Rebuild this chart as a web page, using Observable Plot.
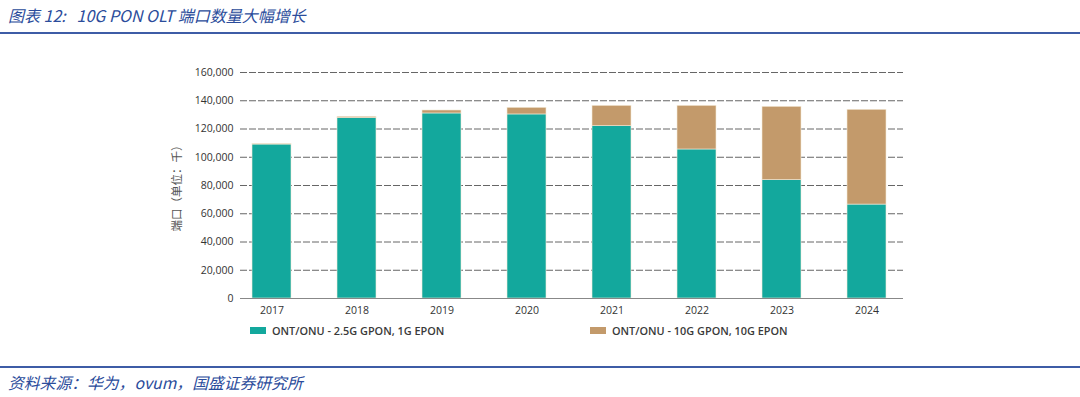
<!DOCTYPE html>
<html><head><meta charset="utf-8">
<script src="https://cdn.jsdelivr.net/npm/d3@7"></script>
<script src="https://cdn.jsdelivr.net/npm/@observablehq/plot@0.6"></script>
<style>
html,body{margin:0;padding:0;background:#fff;width:1080px;height:397px;overflow:hidden;position:relative;font-family:"Open Sans","Noto Sans CJK SC",sans-serif;}
.title{position:absolute;left:8px;top:3px;font-size:16px;font-style:italic;color:#2b4c9b;font-family:"Noto Sans CJK SC","Noto Sans",sans-serif;white-space:nowrap;}
.rule{position:absolute;left:0;width:1080px;height:2px;background:#3d5ca6;}
.foot{position:absolute;left:8px;top:371px;font-size:15.8px;font-style:italic;color:#2b4c9b;font-family:"Noto Sans CJK SC","Noto Sans",sans-serif;white-space:nowrap;}
#chart{position:absolute;left:0;top:50px;}
.leg{position:absolute;top:323px;font-size:10.9px;font-weight:600;color:#3a3a3a;white-space:nowrap;display:flex;align-items:center;}
.sw{display:inline-block;width:16px;height:7px;margin-right:6px;}
</style></head>
<body>
<div class="title">图表 12:&nbsp;&nbsp; 10G PON OLT 端口数量大幅增长</div>
<div class="rule" style="top:32px"></div>
<div id="chart"></div>
<div id="legend"></div>
<div class="rule" style="top:366px"></div>
<div class="foot">资料来源：华为，ovum，国盛证券研究所</div>
<script>
const years = ["2017","2018","2019","2020","2021","2022","2023","2024"];
const seriesNames = ["ONT/ONU - 2.5G GPON, 1G EPON", "ONT/ONU - 10G GPON, 10G EPON"];
const lowSpeed = [109000, 127800, 131000, 130300, 122000, 105500, 83800, 66500];
const highSpeed = [500, 800, 2100, 4700, 14400, 30900, 51900, 67100];
const yTicks = [0, 20000, 40000, 60000, 80000, 100000, 120000, 140000, 160000];
const colors = ["#13a89d", "#c39a6b"];
const yLabel = "端口（单位：千）";

const rows = [];
years.forEach((y, i) => {
  rows.push({year: y, series: seriesNames[0], value: lowSpeed[i]});
  rows.push({year: y, series: seriesNames[1], value: highSpeed[i]});
});

const fmt = d3.format(",");
const plot = Plot.plot({
  width: 1080,
  height: 270,
  marginLeft: 240,
  marginRight: 177,
  marginTop: 22,
  marginBottom: 22,
  style: {fontFamily: '"Open Sans","Noto Sans CJK SC",sans-serif', fontSize: "10.5px", color: "#333", background: "transparent"},
  x: {domain: years, paddingInner: 0.54, paddingOuter: 0.16, align: 0.4, label: null},
  y: {domain: [0, 160000], label: null},
  color: {domain: seriesNames, range: colors},
  marks: [
    Plot.ruleY(yTicks.filter(d => d > 0), {stroke: "#666", strokeDasharray: "7,2", strokeWidth: 1}),
    Plot.barY(rows, {x: "year", y: "value", fill: "series", stroke: "#f3ead8", strokeWidth: 0.6, order: seriesNames}),
    Plot.ruleY([0], {stroke: "#888", strokeWidth: 1}),
    Plot.axisX({tickSize: 0, tickPadding: 8, label: null}),
    Plot.axisY({ticks: yTicks, tickFormat: fmt, tickSize: 0, tickPadding: 7, label: null}),
    Plot.text([yLabel], {frameAnchor: "left", textAnchor: "middle", dx: -63, rotate: -90, fontSize: 11.5, fill: "#555"})
  ]
});
document.getElementById("chart").appendChild(plot);

const leg = document.getElementById("legend");
const legX = [250, 590];
seriesNames.forEach((s, i) => {
  const d = document.createElement("div");
  d.className = "leg";
  d.style.left = legX[i] + "px";
  d.innerHTML = `<span class="sw" style="background:${colors[i]}"></span><span>${s}</span>`;
  leg.appendChild(d);
});
</script>
</body></html>
